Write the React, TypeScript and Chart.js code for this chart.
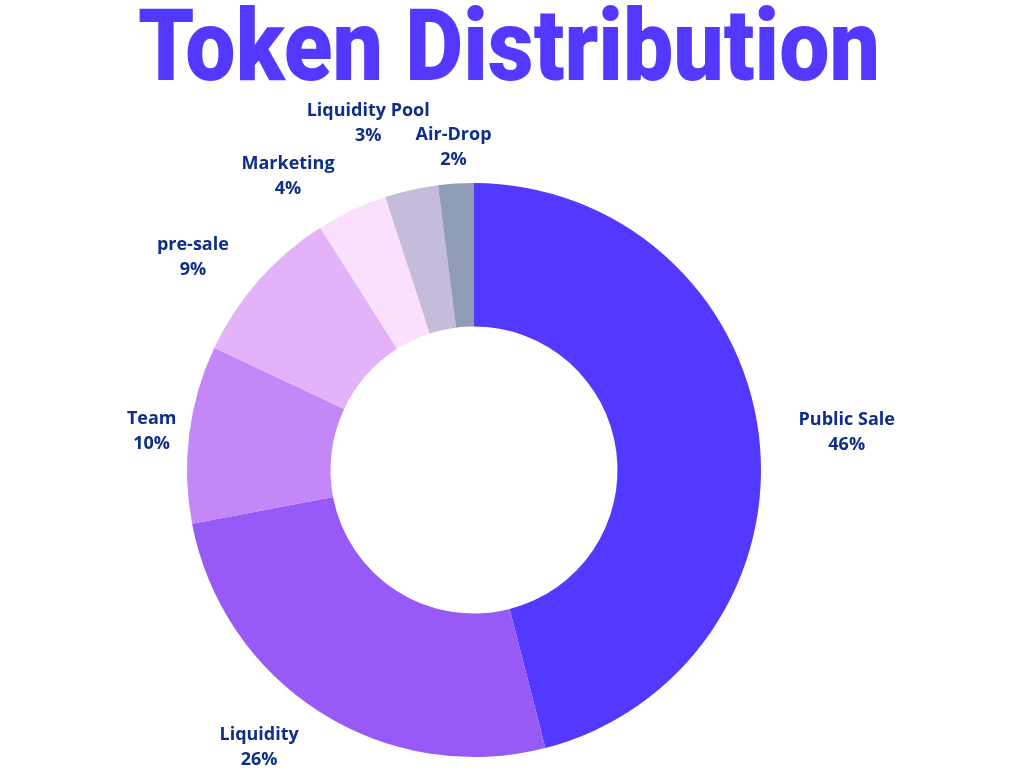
import React, { useEffect, useRef } from "react";
import { Chart, registerables } from "chart.js";

Chart.register(...registerables);

const titleText = "Token Distribution";
const categories = ["Public Sale", "Liquidity", "Team", "pre-sale", "Marketing", "Liquidity Pool", "Air-Drop"];
const shares = [46, 26, 10, 9, 4, 3, 2];
const sliceColors = ["#5338ff", "#985af7", "#c487f7", "#e3b2f8", "#fbe0fd", "#c5bcdc", "#909cb5"];
// label placement relative to each slice: distance factor (x outer radius) and angle shift in degrees
const labelDistance = [1.306, 1.216, 1.132, 1.233, 1.216, 1.268, 1.134];
const labelAngleShift = [1.1, 5.6, 0, -4, -7, -4.3, 0];

const labelPlugin = {
  id: "sliceLabels",
  afterDraw(chart: any) {
    const ctx = chart.ctx as CanvasRenderingContext2D;
    const meta = chart.getDatasetMeta(0);
    ctx.save();
    ctx.fillStyle = "#0e2e8a";
    ctx.font = "bold 18px 'Open Sans', 'Noto Sans', sans-serif";
    ctx.textAlign = "center";
    ctx.textBaseline = "middle";
    meta.data.forEach((arc: any, i: number) => {
      const p = arc.getProps(["x", "y", "startAngle", "endAngle", "outerRadius"], true);
      const mid = (p.startAngle + p.endAngle) / 2 + (labelAngleShift[i] * Math.PI) / 180;
      const r = p.outerRadius * labelDistance[i];
      const x = p.x + Math.cos(mid) * r;
      const y = p.y + Math.sin(mid) * r + 2;
      ctx.fillText(categories[i], x, y - 12.5);
      ctx.fillText(shares[i] + "%", x, y + 12.5);
    });
    ctx.restore();

    // title
    ctx.save();
    ctx.fillStyle = "#5338ff";
    ctx.font = "900 101px Roboto, Lato, sans-serif";
    ctx.textAlign = "left";
    ctx.textBaseline = "alphabetic";
    const w = ctx.measureText(titleText).width;
    const target = 742;
    const sx = target / w;
    ctx.translate(138, 80);
    ctx.scale(sx, 1);
    ctx.fillText(titleText, 0, 0);
    ctx.restore();
  },
};

export default function App() {
  const ref = useRef<HTMLCanvasElement>(null);
  useEffect(() => {
    document.body.style.margin = "0";
    const chart = new Chart(ref.current!, {
      type: "doughnut",
      data: {
        labels: categories,
        datasets: [
          {
            data: shares,
            backgroundColor: sliceColors,
            borderWidth: 0,
          },
        ],
      },
      options: {
        responsive: false,
        animation: false,
        cutout: "50%",
        layout: { padding: { top: 183, bottom: 11, left: 187, right: 263 } },
        plugins: { legend: { display: false }, tooltip: { enabled: false }, title: { display: false } },
      },
      plugins: [labelPlugin],
    });
    return () => chart.destroy();
  }, []);
  return (
    <div style={{ width: 1024, height: 768, background: "#ffffff" }}>
      <canvas ref={ref} width={1024} height={768} style={{ display: "block" }} />
    </div>
  );
}
